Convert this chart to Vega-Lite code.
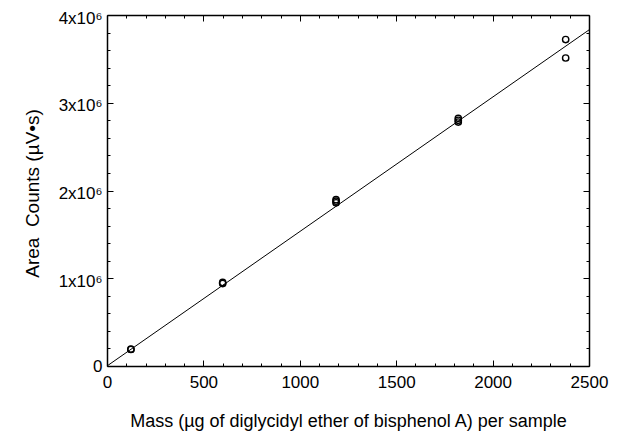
{
  "$schema": "https://vega.github.io/schema/vega-lite/v6.json",
  "width": 482,
  "height": 351,
  "autosize": {"type": "none"},
  "padding": {"left": 107, "top": 15, "right": 34, "bottom": 67},
  "background": "white",
  "config": {
    "view": {"stroke": null},
    "axis": {
      "labelFont": "Liberation Sans",
      "titleFont": "Liberation Sans",
      "labelFontSize": 17,
      "titleFontSize": 18,
      "labelColor": "black",
      "titleColor": "black",
      "titleFontWeight": "normal",
      "domainColor": "black",
      "domainWidth": 1.5,
      "tickColor": "black",
      "tickWidth": 1,
      "grid": false,
      "labelFlush": false,
      "labelOverlap": false,
      "labelBound": false
    }
  },
  "layer": [
    {
      "data": {
        "values": [
          {"mass": 124, "area": 188000},
          {"mass": 124, "area": 192000},
          {"mass": 600, "area": 940000},
          {"mass": 600, "area": 952000},
          {"mass": 1188, "area": 1860000},
          {"mass": 1188, "area": 1878000},
          {"mass": 1188, "area": 1895000},
          {"mass": 1822, "area": 2780000},
          {"mass": 1822, "area": 2800000},
          {"mass": 1822, "area": 2822000},
          {"mass": 2379, "area": 3720000},
          {"mass": 2379, "area": 3510000}
        ]
      },
      "mark": {"type": "point", "shape": "circle", "filled": false, "stroke": "black", "strokeWidth": 1.4, "size": 40, "opacity": 1},
      "encoding": {
        "x": {
          "field": "mass",
          "type": "quantitative",
          "scale": {"domain": [0, 2500], "nice": false},
          "axis": {
            "orient": "bottom",
            "values": [0,100,200,300,400,500,600,700,800,900,1000,1100,1200,1300,1400,1500,1600,1700,1800,1900,2000,2100,2200,2300,2400,2500],
            "tickSize": {"condition": {"test": "datum.value % 500 === 0", "value": -6}, "value": -3},
            "labelExpr": "datum.value % 500 === 0 ? '' + datum.value : ''",
            "labelPadding": 14,
            "title": "Mass (µg of diglycidyl ether of bisphenol A) per sample",
            "titleY": 60,
            "titleBaseline": "alphabetic"
          }
        },
        "y": {
          "field": "area",
          "type": "quantitative",
          "scale": {"domain": [0, 4000000], "nice": false},
          "axis": {
            "orient": "left",
            "values": [0,200000,400000,600000,800000,1000000,1200000,1400000,1600000,1800000,2000000,2200000,2400000,2600000,2800000,3000000,3200000,3400000,3600000,3800000,4000000],
            "tickSize": {"condition": {"test": "datum.value % 1000000 === 0", "value": -6}, "value": -3},
            "labelExpr": "datum.value === 0 ? '0' : (datum.value % 1000000 === 0 ? (datum.value / 1000000) + 'x10⁶' : '')",
            "labelOffset": {"condition": {"test": "datum.value === 0", "value": 0}, "value": 3},
            "labelPadding": 11,
            "title": "Area \u00a0Counts (µV•s)",
            "titleFontSize": 19,
            "titleX": -69,
            "titleY": 178,
            "titleAngle": -90,
            "titleAlign": "center",
            "titleBaseline": "alphabetic"
          }
        }
      }
    },
    {
      "data": {
        "values": [
          {"mass": 0, "area": 0},
          {"mass": 2500, "area": 3830000}
        ]
      },
      "mark": {"type": "line", "color": "black", "strokeWidth": 1},
      "encoding": {
        "x": {
          "field": "mass",
          "type": "quantitative",
          "axis": {
            "orient": "top",
            "values": [0,100,200,300,400,500,600,700,800,900,1000,1100,1200,1300,1400,1500,1600,1700,1800,1900,2000,2100,2200,2300,2400,2500],
            "tickSize": {"condition": {"test": "datum.value % 500 === 0", "value": -6}, "value": -3},
            "labels": false,
            "title": null
          }
        },
        "y": {
          "field": "area",
          "type": "quantitative",
          "axis": {
            "orient": "right",
            "values": [0,200000,400000,600000,800000,1000000,1200000,1400000,1600000,1800000,2000000,2200000,2400000,2600000,2800000,3000000,3200000,3400000,3600000,3800000,4000000],
            "tickSize": {"condition": {"test": "datum.value % 1000000 === 0", "value": -6}, "value": -3},
            "labels": false,
            "title": null
          }
        }
      }
    }
  ],
  "resolve": {"axis": {"x": "independent", "y": "independent"}}
}
